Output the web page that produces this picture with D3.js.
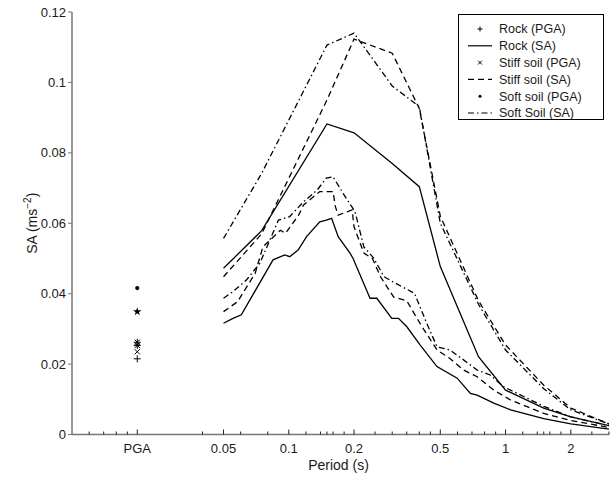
<!DOCTYPE html>
<html>
<head>
<meta charset="utf-8">
<script src="https://cdn.jsdelivr.net/npm/d3@7"></script>
<style>
  body { margin: 0; background: #fff; }
  text { font-family: "Liberation Sans", Arial, sans-serif; fill: #1a1a1a; }
</style>
</head>
<body>
<div id="chart"></div>
<script>
// periods (s) for the coarse curves
const periodsA = [0.05, 0.075, 0.15, 0.2, 0.3, 0.4, 0.5, 0.75, 1, 1.5, 2, 3];
const rockSA_A  = [0.0472, 0.0579, 0.0882, 0.0857, 0.077, 0.0704, 0.0477, 0.0221, 0.0126, 0.0075, 0.005, 0.0025];
const stiffSA_A = [0.0448, 0.057, 0.095, 0.1123, 0.1083, 0.0926, 0.062, 0.038, 0.0254, 0.014, 0.0075, 0.003];
const softSA_A  = [0.0557, 0.0742, 0.1106, 0.114, 0.099, 0.0931, 0.06, 0.037, 0.024, 0.013, 0.007, 0.003];

// fine curves
const rockPeriodsB = [0.05, 0.0553, 0.0604, 0.0846, 0.0958, 0.101, 0.1104, 0.1208, 0.139, 0.149, 0.1576, 0.169, 0.1916, 0.198, 0.237, 0.2547, 0.2987, 0.3206, 0.3505, 0.4039, 0.4826, 0.598, 0.688, 0.739, 0.8826, 1.055, 1.5, 2, 3];
const rockSA_B = [0.0316, 0.033, 0.034, 0.0496, 0.051, 0.0505, 0.0524, 0.0562, 0.0604, 0.0609, 0.0614, 0.0562, 0.0515, 0.05, 0.0387, 0.0387, 0.033, 0.033, 0.0306, 0.0254, 0.0193, 0.016, 0.0117, 0.0112, 0.0089, 0.007, 0.0045, 0.003, 0.0015];
const stiffPeriodsB = [0.05, 0.058, 0.07, 0.076, 0.0915, 0.0965, 0.111, 0.117, 0.139, 0.152, 0.16, 0.164, 0.169, 0.196, 0.2, 0.222, 0.243, 0.265, 0.305, 0.35, 0.407, 0.483, 0.554, 0.64, 0.74, 0.883, 1.055, 1.5, 2, 3];
const stiffSA_B = [0.0349, 0.0377, 0.0458, 0.0533, 0.058, 0.0571, 0.0623, 0.0652, 0.069, 0.069, 0.069, 0.0647, 0.0623, 0.0638, 0.059, 0.0515, 0.05, 0.0448, 0.039, 0.038, 0.0311, 0.024, 0.0216, 0.0183, 0.0164, 0.0126, 0.0098, 0.006, 0.004, 0.002];
const softPeriodsB = [0.05, 0.0553, 0.0638, 0.0735, 0.0896, 0.101, 0.117, 0.135, 0.149, 0.16, 0.178, 0.202, 0.222, 0.247, 0.275, 0.31, 0.38, 0.43, 0.483, 0.554, 0.64, 0.74, 0.85, 0.977, 1.5, 2, 3];
const softSA_B = [0.0387, 0.0406, 0.0439, 0.0486, 0.0609, 0.0619, 0.0661, 0.0694, 0.0728, 0.0732, 0.0685, 0.0633, 0.0533, 0.05, 0.0448, 0.043, 0.0401, 0.032, 0.0249, 0.024, 0.0212, 0.0183, 0.0169, 0.0136, 0.008, 0.005, 0.0025];

// PGA values (plotted at the "PGA" position)
const pgaPos = 0.02;
const pgaRock_A = 0.0215, pgaStiff_A = 0.0235, pgaSoft_A = 0.0416;
const pgaRock_B = 0.0253, pgaStiff_B = 0.0262, pgaSoft_B = 0.0349;

const majorTicks = [0.02, 0.05, 0.1, 0.2, 0.5, 1, 2];
const majorLabels = ["PGA", "0.05", "0.1", "0.2", "0.5", "1", "2"];
const minorTicks = [0.012, 0.014, 0.016, 0.018, 0.04, 0.06, 0.08, 0.12, 0.14, 0.15, 0.16, 0.18,
                    0.25, 0.3, 0.35, 0.4, 0.45, 0.6, 0.7, 0.8, 0.9, 1.2, 1.4, 1.5, 1.6, 1.8, 2.5, 3];
const yTicks = [0, 0.02, 0.04, 0.06, 0.08, 0.1, 0.12];

const legendItems = [
  { label: "Rock (PGA)", marker: "+" },
  { label: "Rock (SA)", dash: null },
  { label: "Stiff soil (PGA)", marker: "x" },
  { label: "Stiff soil (SA)", dash: "6,4" },
  { label: "Soft soil (PGA)", marker: "dot" },
  { label: "Soft Soil (SA)", dash: "6,3,1.5,3" }
];

const W = 616, H = 481;
const x0 = 72, x1 = 609, yTop = 12, yBot = 434.5;

const svg = d3.select('#chart').append('svg')
    .attr('width', W)
    .attr('height', H);

const xScale = d3.scaleLog().domain([0.01, 3]).range([x0, x1]);
const yScale = d3.scaleLinear().domain([0, 0.12]).range([yBot, yTop]);

svg.append('clipPath').attr('id', 'clip')
  .append('rect').attr('x', x0).attr('y', 0).attr('width', x1 - x0).attr('height', yBot);

// axes
const axisColor = '#777';
const xAxisG = svg.append('g').attr('transform', `translate(0,${yBot})`);
xAxisG.append('line').attr('x1', x0).attr('x2', x1).attr('stroke', axisColor).attr('stroke-width', 1.5);
xAxisG.selectAll('.minor').data(minorTicks).join('line')
    .attr('x1', d => xScale(d)).attr('x2', d => xScale(d))
    .attr('y1', 0).attr('y2', -3).attr('stroke', '#222').attr('stroke-width', 1);
xAxisG.selectAll('.major').data(majorTicks).join('line')
    .attr('x1', d => xScale(d)).attr('x2', d => xScale(d))
    .attr('y1', 0).attr('y2', -5).attr('stroke', '#222').attr('stroke-width', 1);
xAxisG.selectAll('text').data(majorTicks).join('text')
    .attr('x', d => xScale(d)).attr('y', 18)
    .attr('text-anchor', 'middle').attr('font-size', 13)
    .text((d, i) => majorLabels[i]);

const yAxisG = svg.append('g').attr('transform', `translate(${x0},0)`);
yAxisG.append('line').attr('y1', yTop).attr('y2', yBot).attr('stroke', axisColor).attr('stroke-width', 1.5);
yAxisG.selectAll('.tick').data(yTicks).join('line')
    .attr('x1', 0).attr('x2', -4)
    .attr('y1', d => yScale(d)).attr('y2', d => yScale(d))
    .attr('stroke', axisColor).attr('stroke-width', 1);
yAxisG.selectAll('text').data(yTicks).join('text')
    .attr('x', -6).attr('y', d => yScale(d)).attr('dy', '0.35em')
    .attr('text-anchor', 'end').attr('font-size', 13)
    .text(d => d3.format('~g')(d));

// axis titles
svg.append('text')
    .attr('x', (x0 + x1) / 2 - 2).attr('y', 470)
    .attr('text-anchor', 'middle').attr('font-size', 14)
    .text('Period (s)');
const yLab = svg.append('text')
    .attr('transform', `translate(37,${(yTop + yBot) / 2}) rotate(-90)`)
    .attr('text-anchor', 'middle').attr('font-size', 14);
yLab.append('tspan').text('SA (ms');
yLab.append('tspan').attr('dy', -6).attr('font-size', 10).text('−2');
yLab.append('tspan').attr('dy', 6).text(')');

// curves
const line = d3.line().x(d => xScale(d[0])).y(d => yScale(d[1]));
const plot = svg.append('g').attr('clip-path', 'url(#clip)');
const curves = [
  { p: periodsA, v: rockSA_A, dash: null },
  { p: periodsA, v: stiffSA_A, dash: '6,4' },
  { p: periodsA, v: softSA_A, dash: '6,3,1.5,3' },
  { p: rockPeriodsB, v: rockSA_B, dash: null },
  { p: stiffPeriodsB, v: stiffSA_B, dash: '6,4' },
  { p: softPeriodsB, v: softSA_B, dash: '6,3,1.5,3' }
];
curves.forEach(c => {
  plot.append('path')
      .attr('d', line(d3.zip(c.p, c.v)))
      .attr('fill', 'none')
      .attr('stroke', '#000')
      .attr('stroke-width', 1.3)
      .attr('stroke-dasharray', c.dash);
});

// markers
function drawMarker(g, type, cx, cy, s = 3.5) {
  if (type === '+') {
    g.append('path').attr('d', `M${cx - s},${cy}H${cx + s}M${cx},${cy - s}V${cy + s}`)
      .attr('stroke', '#000').attr('stroke-width', 1);
  } else if (type === 'x') {
    const t = s * 0.75;
    g.append('path').attr('d', `M${cx - t},${cy - t}L${cx + t},${cy + t}M${cx - t},${cy + t}L${cx + t},${cy - t}`)
      .attr('stroke', '#000').attr('stroke-width', 1);
  } else if (type === '*') {
    const t = s * 0.75;
    g.append('path').attr('d', `M${cx - s},${cy}H${cx + s}M${cx},${cy - s}V${cy + s}M${cx - t},${cy - t}L${cx + t},${cy + t}M${cx - t},${cy + t}L${cx + t},${cy - t}`)
      .attr('stroke', '#000').attr('stroke-width', 1);
  } else if (type === 'star') {
    g.append('path').attr('d', d3.symbol(d3.symbolStar, 22)())
      .attr('transform', `translate(${cx},${cy})`).attr('fill', '#000');
  } else if (type === 'dot') {
    g.append('circle').attr('cx', cx).attr('cy', cy).attr('r', s * 0.6).attr('fill', '#000');
  }
}
const mk = svg.append('g');
const pgaPts = [
  ['+', pgaRock_A], ['x', pgaStiff_A], ['dot', pgaSoft_A],
  ['*', pgaRock_B], ['*', pgaStiff_B], ['star', pgaSoft_B]
];
pgaPts.forEach(([t, v]) => drawMarker(mk, t, xScale(pgaPos), yScale(v)));

// legend
const lg = svg.append('g');
lg.append('rect').attr('x', 458.5).attr('y', 14.5).attr('width', 145).attr('height', 105)
  .attr('fill', '#fff').attr('stroke', '#000').attr('stroke-width', 1);
legendItems.forEach((it, i) => {
  const cy = 29 + i * 16.8;
  if (it.marker) {
    drawMarker(lg, it.marker, 480, cy, 2.5);
  } else {
    lg.append('line').attr('x1', 468).attr('x2', 492).attr('y1', cy).attr('y2', cy)
      .attr('stroke', '#000').attr('stroke-width', 1.2).attr('stroke-dasharray', it.dash);
  }
  lg.append('text').attr('x', 499).attr('y', cy).attr('dy', '0.35em')
    .attr('font-size', 12.5).text(it.label);
});
</script>
</body>
</html>
